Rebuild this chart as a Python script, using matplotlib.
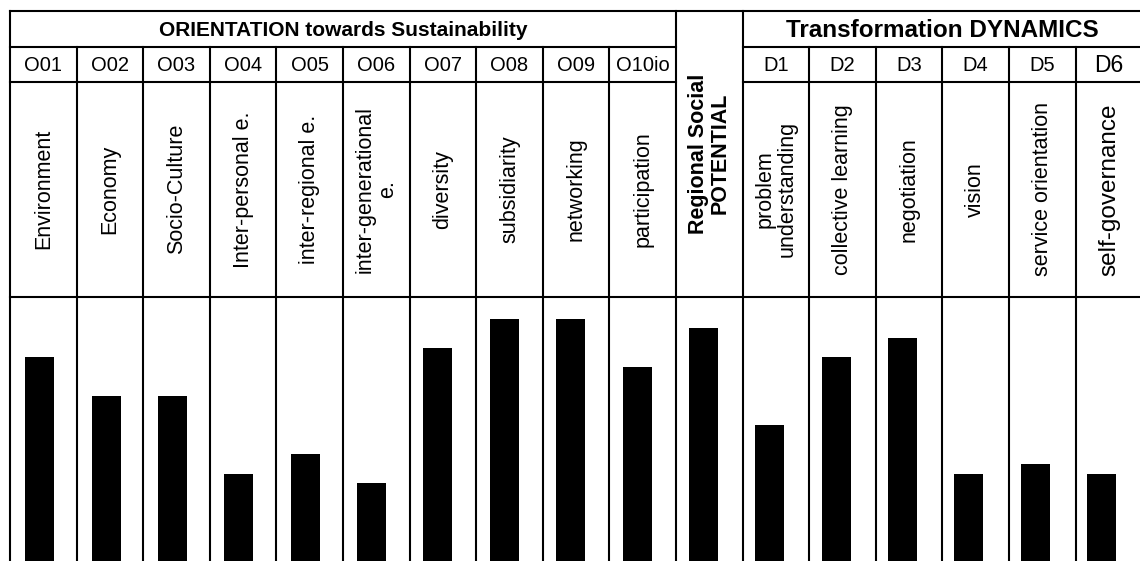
import matplotlib
matplotlib.use("Agg")
import matplotlib.pyplot as plt

plt.rcParams['font.family'] = ['Liberation Sans', 'DejaVu Sans']

# data
codes = ["O01", "O02", "O03", "O04", "O05", "O06", "O07", "O08", "O09", "O10io",
         "", "D1", "D2", "D3", "D4", "D5", "D6"]
names = ["Environment", "Economy", "Socio-Culture", "Inter-personal e.",
         "inter-regional e.", "inter-generational\ne.", "diversity", "subsidiarity",
         "networking", "participation", "Regional Social\nPOTENTIAL",
         "problem\nunderstanding", "collective learning", "negotiation", "vision",
         "service orientation", "self-governance"]
scores = [21, 17, 17, 9, 11, 8, 22, 25, 25, 20, 24, 14, 21, 23, 9, 10, 9]
group_titles = ["ORIENTATION towards Sustainability", "Transformation DYNAMICS"]

W, H = 1140, 561
fig = plt.figure(figsize=(W / 100, H / 100), dpi=100)

# bar area (lower part of the table)
axb = fig.add_axes([6.6 / W, 0, 1128.1 / W, 265 / H])
axb.bar(range(len(scores)), scores, width=0.437, color='black', linewidth=0)
axb.set_xlim(-0.5, len(scores) - 0.5)
axb.set_ylim(0, 265 / 9.7)
axb.axis('off')

# table grid + header text, in pixel coordinates
axg = fig.add_axes([0, 0, 1, 1], facecolor='none')
axg.set_xlim(0, W)
axg.set_ylim(H, 0)
axg.axis('off')

x0, cw = 10, 66.6
edges = [x0 + cw * k for k in range(18)]
y_top, y_r1, y_r2, y_r3 = 11, 47, 82, 296.5
lw = 1.5
kw = dict(color='black', lw=lw, solid_capstyle='projecting')

axg.plot([edges[0], edges[17]], [y_top, y_top], **kw)
axg.plot([edges[0], edges[17]], [y_r3, y_r3], **kw)
for y in (y_r1, y_r2):
    axg.plot([edges[0], edges[10]], [y, y], **kw)
    axg.plot([edges[11], edges[17]], [y, y], **kw)
for k, xe in enumerate(edges):
    ystart = y_top if k in (0, 10, 11, 17) else y_r1
    axg.plot([xe, xe], [ystart, H + 5], **kw)

# group titles
axg.text((edges[0] + edges[10]) / 2, (y_top + y_r1) / 2 + 1, group_titles[0],
         ha='center', va='center', fontsize=15, fontweight='bold')
axg.text((edges[11] + edges[17]) / 2, (y_top + y_r1) / 2 + 1, group_titles[1],
         ha='center', va='center', fontsize=17.5, fontweight='bold')

for i, (c, n) in enumerate(zip(codes, names)):
    xc = (edges[i] + edges[i + 1]) / 2
    if c:
        axg.text(xc, (y_r1 + y_r2) / 2 + 1, c, ha='center', va='center',
                 fontsize=16.5 if c == "D6" else 14.5)
        axg.text(xc, (y_r2 + y_r3) / 2, n, ha='center', va='center', rotation=90,
                 multialignment='center', rotation_mode='anchor',
                 fontsize=17.5 if n == "self-governance" else 15.5, linespacing=1.05)
    else:
        axg.text(xc, (y_top + y_r3) / 2, n, ha='center', va='center', rotation=90,
                 multialignment='center', rotation_mode='anchor',
                 fontsize=15.5, fontweight='bold', linespacing=1.05)

fig.savefig("out.png", dpi=100)
